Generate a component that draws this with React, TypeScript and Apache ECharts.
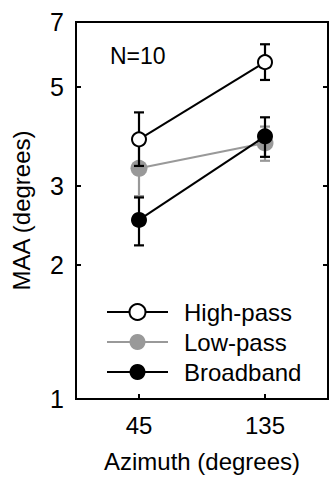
import React, { useEffect, useRef } from "react";
import * as echarts from "echarts";

const categories = ["45", "135"];
const yTicks = [1, 2, 3, 5, 7];

const highPass = [3.82, 5.69];
const highPassLo = [3.33, 5.19];
const highPassHi = [4.39, 6.24];

const lowPass = [3.29, 3.75];
const lowPassLo = [2.85, 3.42];
const lowPassHi = [3.72, 4.08];

const broadband = [2.52, 3.88];
const broadbandLo = [2.21, 3.49];
const broadbandHi = [2.83, 4.28];

const FONT = "Liberation Sans, Arial, sans-serif";

function errSeries(name: string, lo: number[], hi: number[], color: string, z: number) {
  return {
    type: "custom",
    name,
    z,
    silent: true,
    encode: { x: 0, y: [1, 2] },
    data: lo.map((l, i) => [i, l, hi[i]]),
    renderItem: (params: any, api: any) => {
      const top = api.coord([api.value(0), api.value(2)]);
      const bot = api.coord([api.value(0), api.value(1)]);
      const hw = 5;
      const style = { stroke: color, lineWidth: 2.2 };
      return {
        type: "group",
        children: [
          { type: "line", shape: { x1: top[0], y1: top[1], x2: bot[0], y2: bot[1] }, style },
          { type: "line", shape: { x1: top[0] - hw, y1: top[1], x2: top[0] + hw, y2: top[1] }, style },
          { type: "line", shape: { x1: bot[0] - hw, y1: bot[1], x2: bot[0] + hw, y2: bot[1] }, style },
        ],
      };
    },
  };
}

export default function App() {
  const ref = useRef<HTMLDivElement>(null);
  useEffect(() => {
    if (!ref.current) return;
    const chart = echarts.init(ref.current, null, { renderer: "svg" });
    const yAxisBase = {
      type: "log",
      logBase: 10,
      min: 1,
      max: 7,
      axisLine: { show: true, lineStyle: { color: "#000", width: 2 } },
      axisTick: { show: true, inside: true, length: 5, lineStyle: { color: "#000", width: 2 }, customValues: yTicks },
      splitLine: { show: false },
      minorTick: { show: false },
    };
    chart.setOption({
      animation: false,
      grid: {
        left: 76,
        top: 22,
        right: 2,
        bottom: 77,
        show: true,
        borderColor: "#000",
        borderWidth: 2,
      },
      xAxis: {
        type: "category",
        data: categories,
        boundaryGap: true,
        name: "Azimuth (degrees)",
        nameLocation: "middle",
        nameGap: 50,
        nameTextStyle: { fontFamily: FONT, fontSize: 24, color: "#000" },
        axisLine: { show: true, lineStyle: { color: "#000", width: 2 } },
        axisTick: { show: true, inside: true, alignWithLabel: true, length: 5, lineStyle: { color: "#000", width: 2 } },
        axisLabel: { fontFamily: FONT, fontSize: 24, color: "#000", margin: 14 },
        splitLine: { show: false },
      },
      yAxis: [
        {
          ...yAxisBase,
          position: "left",
          name: "MAA (degrees)",
          nameLocation: "middle",
          nameRotate: 90,
          nameGap: 43,
          nameTextStyle: { fontFamily: FONT, fontSize: 24, color: "#000" },
          axisLabel: {
            fontFamily: FONT,
            fontSize: 25,
            color: "#000",
            margin: 12,
            customValues: yTicks,
            formatter: (v: number) => String(Math.round(v)),
          },
        },
        {
          ...yAxisBase,
          position: "right",
          axisLabel: { show: false },
        },
      ],
      legend: {
        data: ["High-pass", "Low-pass", "Broadband"],
        orient: "vertical",
        left: 106,
        top: 300,
        padding: 0,
        itemWidth: 61,
        itemHeight: 20,
        itemGap: 6,
        selectedMode: false,
        textStyle: { fontFamily: FONT, fontSize: 24, color: "#000", padding: [0, 0, 0, 11] },
      },
      graphic: [
        {
          type: "text",
          left: 110,
          top: 44,
          style: { text: "N=10", fontFamily: FONT, fontSize: 23, fill: "#000" },
        },
      ],
      series: [
        errSeries("lp-err", lowPassLo, lowPassHi, "#999999", 1),
        {
          type: "line",
          name: "Low-pass",
          data: lowPass,
          z: 2,
          symbol: "circle",
          symbolSize: 17,
          lineStyle: { color: "#999999", width: 2 },
          itemStyle: { color: "#999999", borderWidth: 0 },
        },
        errSeries("bb-err", broadbandLo, broadbandHi, "#000", 3),
        {
          type: "line",
          name: "Broadband",
          data: broadband,
          z: 4,
          symbol: "circle",
          symbolSize: 16,
          lineStyle: { color: "#000", width: 2 },
          itemStyle: { color: "#000", borderWidth: 0 },
        },
        errSeries("hp-err", highPassLo, highPassHi, "#000", 5),
        {
          type: "line",
          name: "High-pass",
          data: highPass,
          z: 6,
          symbol: "circle",
          symbolSize: 14,
          lineStyle: { color: "#000", width: 2 },
          itemStyle: { color: "#fff", borderColor: "#000", borderWidth: 2 },
        },
      ],
    });
    return () => chart.dispose();
  }, []);
  return <div ref={ref} style={{ width: 330, height: 478, position: "absolute", left: 0, top: 0 }} />;
}
